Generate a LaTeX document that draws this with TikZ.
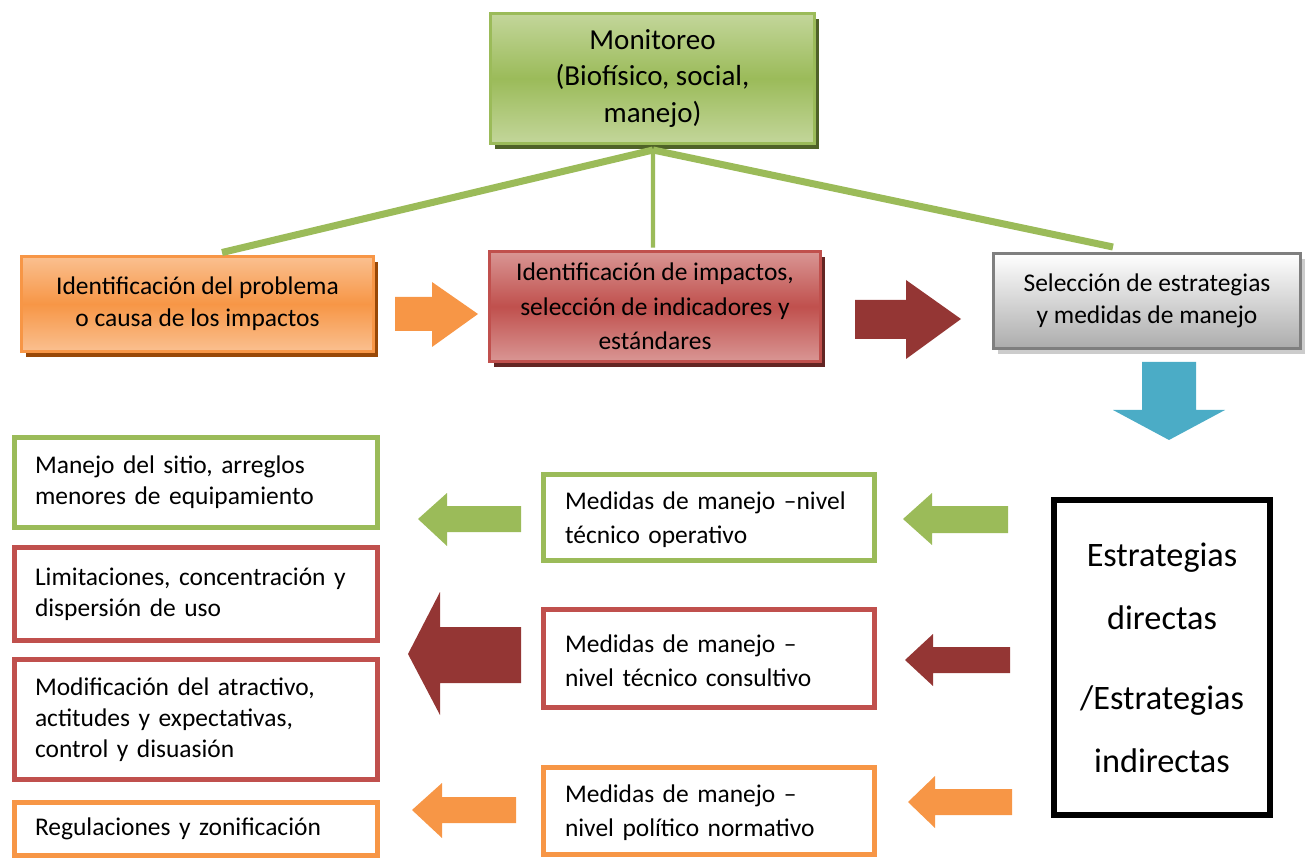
\documentclass[tikz,border=0pt]{standalone}
\usepackage{fontspec}
\setmainfont{Carlito}
\usetikzlibrary{shadows}
\definecolor{verde}{HTML}{9BBB59}
\definecolor{verdeclaro}{HTML}{C3D69B}
\definecolor{verdeosc}{HTML}{4F6228}
\definecolor{naranja}{HTML}{F79646}
\definecolor{naranjaclaro}{HTML}{FAC090}
\definecolor{naranjaosc}{HTML}{984807}
\definecolor{rojo}{HTML}{C0504D}
\definecolor{rojoclaro}{HTML}{D99694}
\definecolor{rojoosc}{HTML}{632523}
\definecolor{granate}{HTML}{943634}
\definecolor{turquesa}{HTML}{4BACC6}
\definecolor{gris}{HTML}{7F7F7F}
\tikzset{font=\fontsize{14.5}{17.6}\selectfont}
\tikzset{
  caja/.style={line width=1.7pt, align=center, inner sep=0pt},
  marco/.style={draw, line width=2.8pt, fill=white, align=left, inner xsep=0.41cm, text width=6.44cm},
  marcom/.style={marco, inner xsep=0.43cm, text width=5.76cm},
  enlace/.style={verde, line width=4pt}
}

\begin{document}
\begin{tikzpicture}[x=0.02cm, y=-0.02cm]
  \useasboundingbox (0,0) rectangle (1305,861);

  % fila superior
  \node[caja, draw=verde, top color=verdeclaro, bottom color=verdeclaro, middle color=verde,
        drop shadow={shadow xshift=2.8pt, shadow yshift=-3pt, fill=verdeosc, opacity=1},
        minimum width=6.48cm, minimum height=2.6cm, font=\fontsize{16.5}{21}\selectfont]
        (moni) at (652.5,78.5) {Monitoreo\\(Biofísico, social,\\manejo)};
  \node[caja, draw=naranja, top color=naranjaclaro, bottom color=naranjaclaro, middle color=naranja,
        drop shadow={shadow xshift=2.5pt, shadow yshift=-3pt, fill=naranjaosc, opacity=1},
        minimum width=7.04cm, minimum height=1.9cm, font=\fontsize{14.5}{18.2}\selectfont]
        (prob) at (197.5,304) {Identificación del problema\\o causa de los impactos};
  \node[caja, draw=rojo, top color=rojoclaro, bottom color=rojoclaro, middle color=rojo,
        drop shadow={shadow xshift=2.5pt, shadow yshift=-3pt, fill=rojoosc, opacity=1},
        minimum width=6.62cm, minimum height=2.2cm, font=\fontsize{14.5}{19.5}\selectfont]
        (impac) at (655,306.5) {Identificación de impactos,\\selección de indicadores y\\estándares};
  \node[caja, draw=gris, top color=white, bottom color=gray!65,
        drop shadow={shadow xshift=2.5pt, shadow yshift=-3pt, fill=gray!40, opacity=1},
        minimum width=6.14cm, minimum height=1.9cm, font=\fontsize{14.5}{18.2}\selectfont]
        (selec) at (1147,301) {Selección de estrategias\\y medidas de manejo};

  \coordinate (hub) at (653,150);
  \draw[enlace] (hub) -- ([xshift=0.49cm,yshift=0.05cm]prob.north);
  \draw[enlace, line width=2.4pt] (hub) -- ([xshift=-0.04cm,yshift=0.05cm]impac.north);
  \draw[enlace] (hub) -- ([xshift=-0.68cm,yshift=0.1cm]selec.north);

  % flechas de bloque
  \fill[naranja] (395,297) -- (432,297) -- (432,282) -- (478,314) -- (432,347) -- (432,331) -- (395,331) -- cycle;
  \fill[granate] (855,300) -- (906,300) -- (906,280) -- (961,319) -- (906,359) -- (906,339) -- (855,339) -- cycle;
  \fill[turquesa] (1142,362) -- (1196,362) -- (1196,410) -- (1225,410) -- (1169,440) -- (1113,410) -- (1142,410) -- cycle;

  % estrategias
  \node[draw, line width=3.4pt, minimum width=4.32cm, minimum height=6.3cm, align=center,
        font=\fontsize{19.5}{36}\selectfont] (estr) at (1162,657.5)
        {Estrategias\\directas\\[0.33cm]/Estrategias\\indirectas};

  % columna central
  \node[marcom, draw=verde, minimum width=6.62cm, minimum height=1.72cm] (oper) at (709,517.5)
        {\strut Medidas de manejo --nivel\\[1.5pt]técnico operativo};
  \node[marcom, draw=rojo, minimum width=6.62cm, minimum height=1.96cm] (cons) at (709,658.5)
        {\strut Medidas de manejo --\\[1.5pt]nivel técnico consultivo};
  \node[marcom, draw=naranja, minimum width=6.62cm, minimum height=1.74cm] (norm) at (709,811)
        {\strut Medidas de manejo --\\[1.5pt]nivel político normativo};

  % columna izquierda
  \node[marco, draw=verde, minimum width=7.26cm, minimum height=1.8cm] (sitio) at (196,482.5)
        {Manejo del sitio, arreglos\\menores de equipamiento};
  \node[marco, draw=rojo, minimum width=7.26cm, minimum height=1.86cm] (limit) at (196,594)
        {Limitaciones, concentración y\\dispersión de uso};
  \node[marco, draw=rojo, minimum width=7.26cm, minimum height=2.4cm] (modif) at (196,719.5)
        {Modificación del atractivo,\\actitudes y expectativas,\\control y disuasión};
  \node[marco, draw=naranja, minimum width=7.26cm, minimum height=1.06cm] (regul) at (196,829)
        {Regulaciones y zonificación};

  % flechas hacia la izquierda
  \fill[verde] (1008,506) -- (932,506) -- (932,493) -- (903,519) -- (932,545) -- (932,533) -- (1008,533) -- cycle;
  \fill[granate] (1010,647) -- (933,647) -- (933,634) -- (905,660) -- (933,686) -- (933,673) -- (1010,673) -- cycle;
  \fill[naranja] (1012,789) -- (935,789) -- (935,776) -- (908,802) -- (935,828) -- (935,815) -- (1012,815) -- cycle;
  \fill[verde] (521,506) -- (447,506) -- (447,493) -- (418,519) -- (447,546) -- (447,532) -- (521,532) -- cycle;
  \fill[granate] (521,627) -- (440,627) -- (440,592) -- (408,654) -- (440,715) -- (440,683) -- (521,683) -- cycle;
  \fill[naranja] (516,797) -- (442,797) -- (442,783) -- (412,810) -- (442,838) -- (442,823) -- (516,823) -- cycle;
\end{tikzpicture}
\end{document}
